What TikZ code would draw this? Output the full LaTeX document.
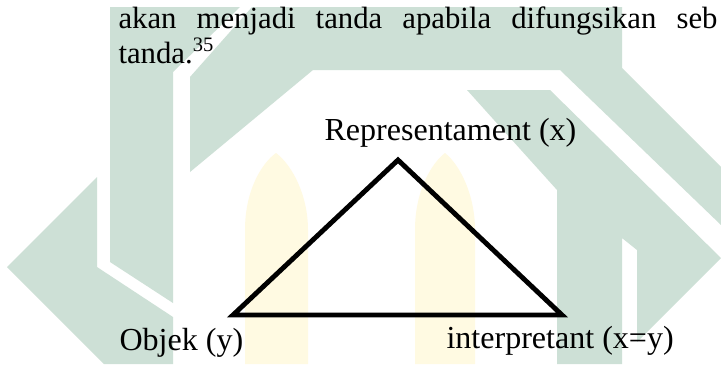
\documentclass[tikz,border=0pt]{standalone}
\usepackage{fontspec}
\setmainfont{Liberation Serif}
\usepackage{tikz}
\usetikzlibrary{positioning}
\definecolor{wmgreen}{RGB}{205,224,214}
\definecolor{wmyellow}{RGB}{255,250,226}
\tikzset{
  wm/.style={fill=wmgreen,draw=none},
  wmy/.style={fill=wmyellow,draw=none},
  lbl/.style={anchor=base west,inner sep=0pt,font=\fontsize{12}{14}\selectfont},
  big/.style={lbl,font=\fontsize{12.5}{15}\selectfont},
  tri/.style={line width=1.9pt}
}

\begin{document}
\begin{tikzpicture}[x=0.39pt,y=-0.39pt]
    \clip (0,0) rectangle (721,364);
    \fill[white] (0,0) rectangle (721,364);

    % watermark
    \fill[wm] (110,7) -- (240,7) -- (173,72) -- (173,303) -- (110,262) -- cycle;
    \fill[wm] (7,267) -- (97,177) -- (97,267) -- (173,317) -- (173,364) -- (104,364) -- cycle;
    \fill[wm] (252,7) -- (622,7) -- (622,68) -- (721,167) -- (721,225) -- (560,70)
        -- (313,70) -- (190,172) -- (190,77) -- cycle;
    \fill[wm] (467,90) -- (550,90) -- (721,258) -- (637,342) -- (637,250)
        -- (622,238) -- (622,364) -- (557,364) -- (557,190) -- cycle;
    \fill[wmy] (245,364) -- (245,230) .. controls (245,190) and (262,163) .. (276,153)
        .. controls (292,165) and (308,195) .. (308,230) -- (308,364) -- cycle;
    \fill[wmy] (415,364) -- (415,230) .. controls (415,190) and (432,163) .. (445,153)
        .. controls (460,165) and (475,195) .. (475,230) -- (475,364) -- cycle;

    % text above
    \node[lbl] (line1) at (118,28) {\spaceskip=7.8pt akan menjadi tanda apabila difungsikan seb};
    \node[lbl] (line2) at (118,63) {tanda.\textsuperscript{35}};

    % triangle
    \coordinate (obj) at (233,315);
    \coordinate (rep) at (398,160);
    \coordinate (int) at (562,315);
    \draw[tri] (obj) -- (rep) -- (int) -- cycle;

    \node[big] (replbl) at (324,140) {Representament (x)};
    \node[big] (objlbl) at (119,350) {Objek (y)};
    \node[big] (intlbl) at (446,348) {interpretant (x=y)};
\end{tikzpicture}
\end{document}
